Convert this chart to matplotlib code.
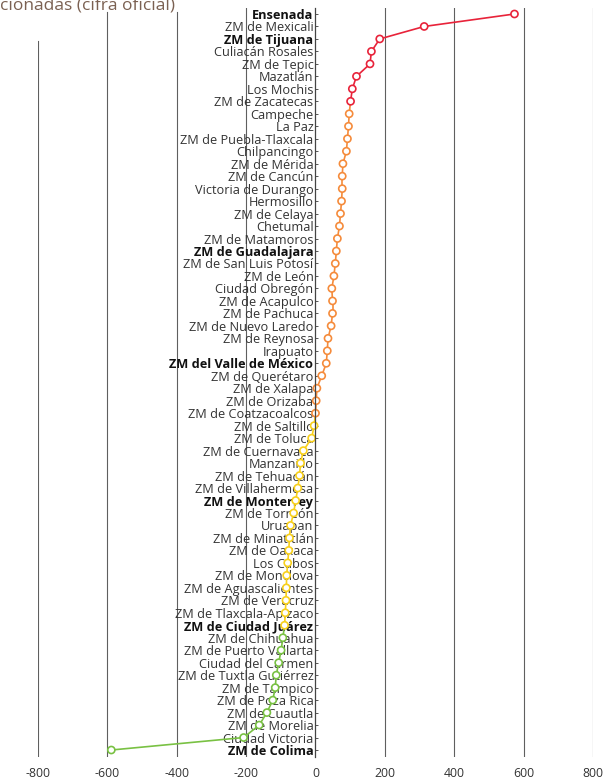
import matplotlib
matplotlib.use("Agg")
import matplotlib.pyplot as plt
import numpy as np
from matplotlib.collections import LineCollection

plt.rcParams['font.family'] = ['Open Sans', 'DejaVu Sans']

cities = [
    "Ensenada", "ZM de Mexicali", "ZM de Tijuana", "Culiacán Rosales", "ZM de Tepic",
    "Mazatlán", "Los Mochis", "ZM de Zacatecas", "Campeche", "La Paz",
    "ZM de Puebla-Tlaxcala", "Chilpancingo", "ZM de Mérida", "ZM de Cancún",
    "Victoria de Durango", "Hermosillo", "ZM de Celaya", "Chetumal", "ZM de Matamoros",
    "ZM de Guadalajara", "ZM de San Luis Potosí", "ZM de León", "Ciudad Obregón",
    "ZM de Acapulco", "ZM de Pachuca", "ZM de Nuevo Laredo", "ZM de Reynosa", "Irapuato",
    "ZM del Valle de México", "ZM de Querétaro", "ZM de Xalapa", "ZM de Orizaba",
    "ZM de Coatzacoalcos", "ZM de Saltillo", "ZM de Toluca", "ZM de Cuernavaca",
    "Manzanillo", "ZM de Tehuacán", "ZM de Villahermosa", "ZM de Monterrey",
    "ZM de Torreón", "Uruapan", "ZM de Minatitlán", "ZM de Oaxaca", "Los Cabos",
    "ZM de Monclova", "ZM de Aguascalientes", "ZM de Veracruz", "ZM de Tlaxcala-Apizaco",
    "ZM de Ciudad Juárez", "ZM de Chihuahua", "ZM de Puerto Vallarta", "Ciudad del Carmen",
    "ZM de Tuxtla Gutiérrez", "ZM de Tampico", "ZM de Poza Rica", "ZM de Cuautla",
    "ZM de Morelia", "Ciudad Victoria", "ZM de Colima",
]
values = [
    573, 313, 185, 161, 157,
    118, 106, 101, 97, 95,
    92, 89, 79, 77,
    77, 75, 72, 69, 63,
    60, 57, 53, 47,
    49, 49, 45, 36, 34,
    31, 18, 4, 2,
    0, -4, -11, -35,
    -43, -46, -51, -57,
    -63, -72, -75, -77, -80,
    -83, -84, -85, -87,
    -89, -94, -99, -106,
    -113, -116, -123, -140,
    -162, -207, -588,
]
bold_cities = ["Ensenada", "ZM de Tijuana", "ZM de Guadalajara", "ZM del Valle de México",
               "ZM de Monterrey", "ZM de Ciudad Juárez", "ZM de Colima"]
x_ticks = [-800, -600, -400, -200, 0, 200, 400, 600, 800]
thresholds = [100, 0, -90]
band_colors = ['#e8233a', '#f58b3b', '#f8d01c', '#79c143']
title_text = "cionadas (cifra oficial)"


def color_of(v):
    if v >= 100:
        return band_colors[0]
    if v >= 0:
        return band_colors[1]
    if v >= -90:
        return band_colors[2]
    return band_colors[3]


W, H = 609, 780
fig = plt.figure(figsize=(W / 100, H / 100), dpi=100)
left_px, right_px, top_px, bot_px = 37.7, 593.3, 8, 757
ax = fig.add_axes([left_px / W, 1 - bot_px / H, (right_px - left_px) / W, (bot_px - top_px) / H])

n = len(cities)
ys = np.arange(n)
vals = np.array(values, dtype=float)

# segments split at thresholds
segs, cols = [], []
for i in range(n - 1):
    x0, x1 = vals[i], vals[i + 1]
    y0, y1 = ys[i], ys[i + 1]
    ts = [0.0, 1.0]
    for th in thresholds:
        if (x0 - th) * (x1 - th) < 0:
            ts.append((th - x0) / (x1 - x0))
    ts = sorted(ts)
    for a, b in zip(ts[:-1], ts[1:]):
        pa = (x0 + a * (x1 - x0), y0 + a * (y1 - y0))
        pb = (x0 + b * (x1 - x0), y0 + b * (y1 - y0))
        segs.append([pa, pb])
        mid = x0 + (a + b) / 2 * (x1 - x0)
        cols.append(color_of(mid))
lc = LineCollection(segs, colors=cols, linewidths=1.2, zorder=2, capstyle='round')
ax.add_collection(lc)
ax.scatter(vals, ys, s=26, facecolors='white', edgecolors=[color_of(v) for v in vals],
           linewidths=1.2, zorder=2.2)

ax.set_xlim(-800, 800)
ax.set_ylim(n - 1 + 0.56, -0.48)

# gridlines
grid_top = {-800: 41, -600: 12, -400: 12}
for t in x_ticks:
    tp = grid_top.get(t, top_px)
    ymax = (bot_px - tp) / (bot_px - top_px)
    if t == 0:
        continue
    ax.axvline(t, ymin=0, ymax=ymax, color='#5f5f5f', lw=0.8, zorder=1)

for s in ['top', 'right', 'bottom']:
    ax.spines[s].set_visible(False)
ax.spines['left'].set_position(('data', 0))
ax.spines['left'].set_color('#444444')
ax.spines['left'].set_linewidth(0.9)
ax.spines['left'].set_zorder(2.6)

ax.set_yticks(ys)
ax.set_yticklabels(cities)
for lbl, c in zip(ax.get_yticklabels(), cities):
    if c in bold_cities:
        lbl.set_fontweight('bold')
        lbl.set_color('#111111')
    else:
        lbl.set_color('#333333')
ax.tick_params(axis='y', direction='in', length=2.5, width=0.7, color='#555555',
               labelsize=9.2, pad=1.5)
ax.set_xticks(x_ticks)
ax.set_xticklabels([str(t) for t in x_ticks])
ax.tick_params(axis='x', length=0, labelsize=8.8, labelcolor='#333333', pad=7)

fig.text(0 / W, 1 - 10 / H, title_text, ha='left', va='baseline', fontsize=12.5,
         color='#7b6152')

fig.savefig("out.png", dpi=100)
